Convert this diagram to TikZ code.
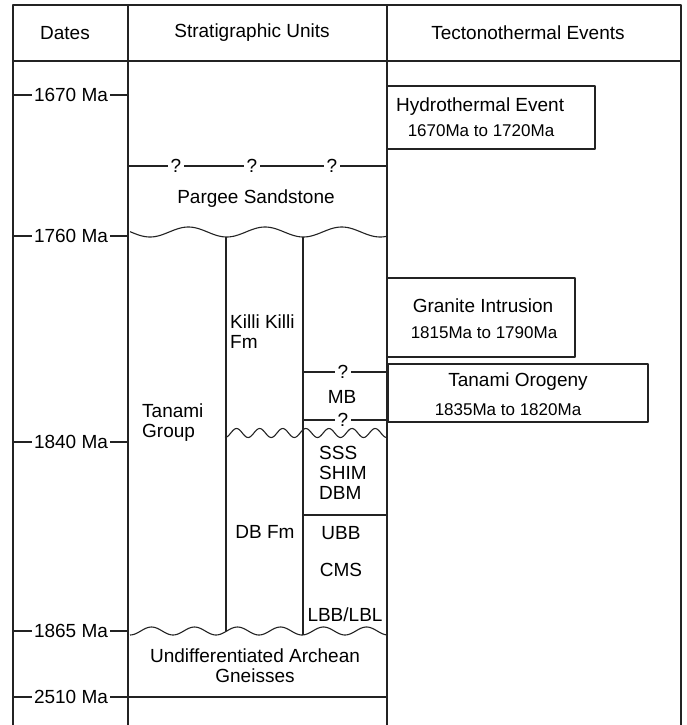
\documentclass[tikz,border=0pt]{standalone}
\usepackage{fontspec}
\setmainfont{Liberation Sans}
\usepackage{tikz}
\usetikzlibrary{calc}
\definecolor{rulegray}{RGB}{35,35,35}

\begin{document}
\begin{tikzpicture}[x=1pt,y=-1pt,line join=round,
  rule/.style={rulegray,line width=1.1pt},
  lbl/.style={font=\fontsize{19}{20}\selectfont,inner sep=1pt},
  sml/.style={font=\fontsize{17}{18}\selectfont,inner sep=1pt},
  tick/.style={lbl,fill=white,inner xsep=2.5pt},
  evbox/.style={draw=rulegray,line width=1.1pt,inner sep=0pt}]
  \useasboundingbox (0,0) rectangle (686,725);
  % frame, header and columns
  \draw[rule] (13,725) -- (13,5) -- (681,5) -- (681,725);
  \draw[rule] (13,61) -- (681,61);
  \draw[rule] (128,5) -- (128,725); \draw[rule] (387,5) -- (387,725);
  \node[lbl] (hdates) at (65,33) {Dates};
  \node[lbl] (hstrat) at (252,33) {Stratigraphic Units};
  \node[lbl] (hevents) at (528,33) {Tectonothermal Events};
  % dates
  \foreach \y/\yr [count=\i] in {95/1670,236/1760,442/1840,631/1865,697/2510} {
    \draw[rule] (13,\y) -- (128,\y);
    \node[tick] (date\i) at (71,\y) {\yr\ Ma};
  }
  % stratigraphy
  \draw[rule] (128,166) -- (387,166);
  \foreach \x [count=\i] in {176,252,332} \node[tick] (qtop\i) at (\x,166) {?};
  \node[lbl] (pargee) at (256,199) {Pargee Sandstone};
  \draw[rule] plot[domain=130:387,samples=140] (\x,{232+5*cos((\x-150)/76.7*360)});
  \draw[rule] plot[domain=225:387,samples=160] (\x,{433+4.5*cos((\x-225)/23.1*360)});
  \draw[rule] plot[domain=130:387,samples=180] (\x,{631+4*cos((\x-130)/43*360)});
  \draw[rule] (226,237) -- (226,631.4);
  \draw[rule] (303,237) -- (303,635);
  \draw[rule] (303,372) -- (387,372); \node[tick] (qmb1) at (343,372) {?};
  \draw[rule] (303,420) -- (387,420); \node[tick] (qmb2) at (343,420) {?};
  \draw[rule] (303,515) -- (387,515);
  \draw[rule] (128,697) -- (387,697);
  \node[lbl,anchor=west,align=left] (tanami) at (141,423) {Tanami\\Group};
  \node[lbl,anchor=west,align=left] (killi) at (229,332) {Killi Killi\\Fm};
  \node[lbl] (dbfm) at (265,532) {DB Fm};
  \node[lbl] (mb) at (342,397) {MB};
  \node[lbl,anchor=west,align=left] (sss) at (318,473) {SSS\\SHIM\\DBM};
  \node[lbl] (ubb) at (341,533) {UBB};
  \node[lbl] (cms) at (341,570) {CMS};
  \node[lbl] (lbb) at (345,615) {LBB/LBL};
  \node[lbl,align=center] (archean) at (255,666) {Undifferentiated Archean\\Gneisses};
  % events
  \node[evbox,minimum width=208pt,minimum height=63pt] (hydro) at (491,117.5) {};
  \node[lbl,anchor=west] (hydrot) at (395,107) {Hydrothermal Event};
  \node[sml] (hydrod) at (481,131) {1670Ma to 1720Ma};
  \node[evbox,minimum width=188pt,minimum height=79pt] (granite) at (481,317.5) {};
  \node[lbl] (granitet) at (483,306) {Granite Intrusion};
  \node[sml] (granited) at (484,333) {1815Ma to 1790Ma};
  \node[evbox,minimum width=260pt,minimum height=58pt] (orogeny) at (518,393) {};
  \node[lbl] (orogenyt) at (518,382) {Tanami Orogeny};
  \node[sml] (orogenyd) at (508,410) {1835Ma to 1820Ma};
\end{tikzpicture}
\end{document}
